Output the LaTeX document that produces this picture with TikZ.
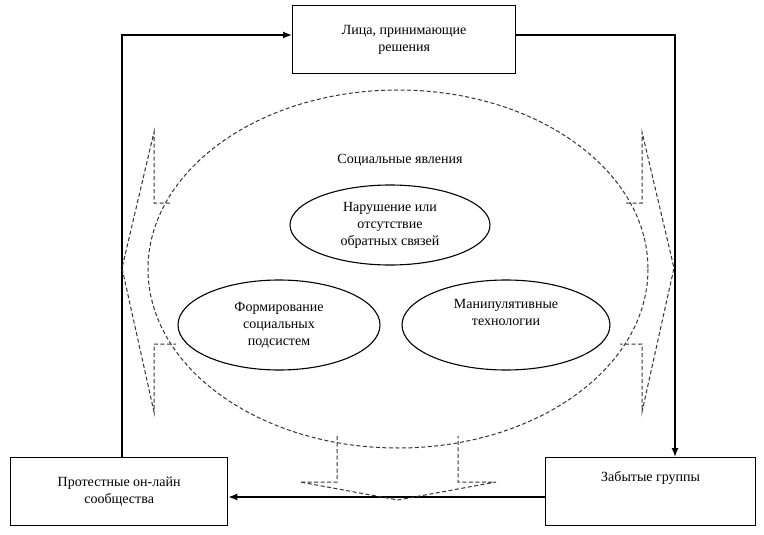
\documentclass[tikz,border=0pt]{standalone}
\usepackage{fontspec}
\setmainfont{Liberation Serif}
\usetikzlibrary{shapes.geometric,arrows.meta}
\begin{document}
\begin{tikzpicture}[x=1pt,y=-1pt,
  fnt/.style={font=\fontsize{14}{17}\selectfont},
  box/.style={draw,line width=1.3pt,minimum width=#1,minimum height=68pt,align=center,fnt,inner sep=2pt},
  oval/.style={draw,line width=1.1pt,ellipse,align=center,fnt,inner sep=0pt},
  dsh/.style={draw=black!80,line width=1pt,dash pattern=on 4pt off 2.5pt},
  conn/.style={line width=1.3pt,-{Latex[length=9pt,width=7pt]}}]
\useasboundingbox (0,0) rectangle (764,535);
\node[box=223pt,anchor=north west] (top) at (292,5) {Лица, принимающие\\решения};
\node[box=217pt,anchor=north west] (left) at (10,457) {Протестные он-лайн\\сообщества};
\node[box=210pt,anchor=north west] (right) at (545,457) {Забытые группы\\[14pt]};
\coordinate (c1) at (122,35);
\coordinate (c2) at (675,35);
\draw[conn] (left.north -| c1) -- (c1) -- (top.west |- c1);
\draw[conn] (top.east |- c2) -- (c2) -- (right.north -| c2);
\draw[conn] (right.west |- 0,497) -- (left.east |- 0,497);
\draw[dsh] (398,269) ellipse [x radius=250, y radius=179];
\node[fnt] (soc) at (400,160) {Социальные явления};
\node[oval,minimum width=200pt,minimum height=80pt] (e1) at (390,225) {Нарушение или\\отсутствие\\обратных связей};
\node[oval,minimum width=202pt,minimum height=90pt] (e2) at (279,325) {Формирование\\социальных\\подсистем};
\node[oval,minimum width=208pt,minimum height=90pt] (e3) at (506,325) {Манипулятивные\\технологии\\[9pt]};
\draw[dsh] (170,203) -- (154,203) -- (154,132) -- (122,268) -- (154,412) -- (154,344) -- (176,344);
\draw[dsh] (626,203) -- (642,203) -- (642,132) -- (674,268) -- (642,412) -- (642,344) -- (620,344);
\draw[dsh] (337,436) -- (337,482) -- (300,482) -- (398,500) -- (496,482) -- (458,482) -- (458,436);
\end{tikzpicture}
\end{document}
